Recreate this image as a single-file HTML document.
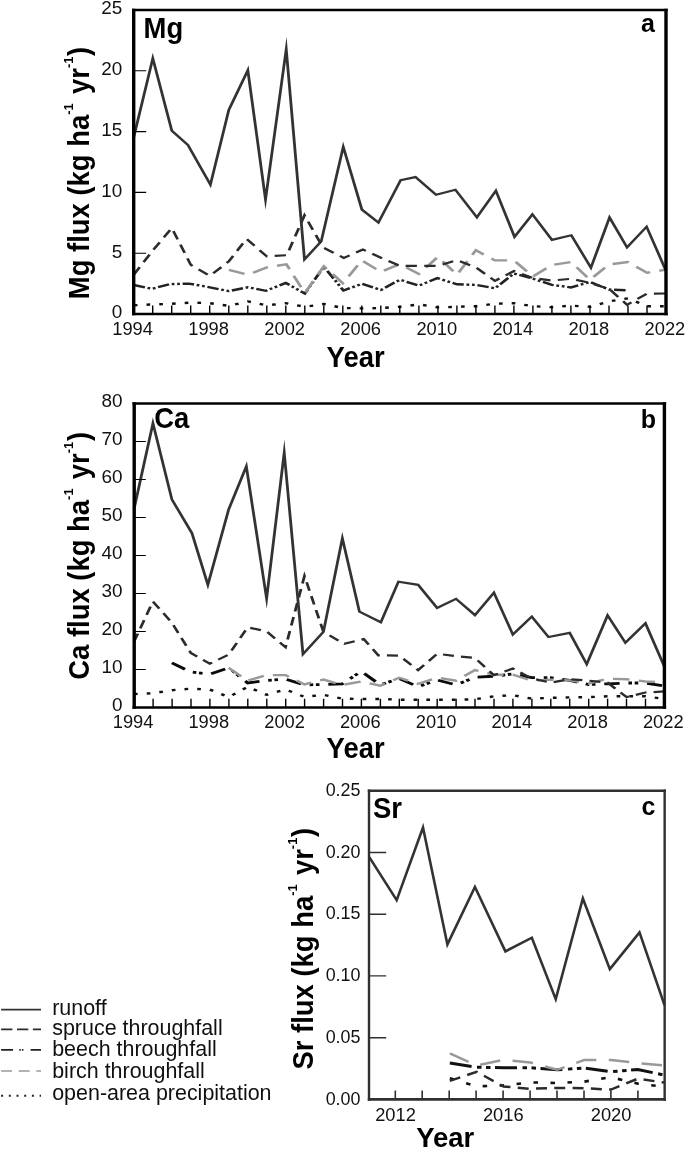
<!DOCTYPE html>
<html lang="en"><head><meta charset="utf-8"><title>Mg, Ca and Sr fluxes</title>
<style>html,body{margin:0;padding:0;background:#fff}body{width:685px;height:1149px;overflow:hidden}
svg{display:block}text{font-family:"Liberation Sans",Arial,Helvetica,sans-serif;fill:#111}
.tk{font-size:18.3px}.ty{font-size:18.9px}.b{font-weight:bold;font-size:27.45px;fill:#000}.lg{font-size:21.45px;fill:#111}</style></head><body>
<svg width="685" height="1149" viewBox="0 0 685 1149">
<rect width="685" height="1149" fill="#fff"/>
<g>
<polyline fill="none" stroke-linejoin="miter" stroke-miterlimit="20" transform="scale(1.27 1)" stroke="#111111" stroke-width="2.4" stroke-dasharray="2.9 7.14" points="105.35,305.3 120.32,304.4 135.29,303.8 150.25,302.6 165.22,303.2 180.19,305.9 195.15,301.4 210.12,305.3 225.08,303.2 240.05,306.8 255.02,304.0 269.98,308.0 284.95,308.4 299.92,308.0 314.88,306.8 329.85,304.4 344.81,307.4 359.78,306.8 374.75,306.2 389.71,303.8 404.68,303.2 419.65,306.2 434.61,307.2 449.58,305.6 464.54,306.8 479.51,301.4 494.48,298.3 509.44,306.2 524.41,306.2"/>
<polyline fill="none" stroke-linejoin="miter" stroke-miterlimit="20" transform="scale(1.27 1)" stroke="#222222" stroke-width="2.4" stroke-dasharray="9.06 2.13 2.2 2.13 2.2 2.13" points="105.35,285.0 119.57,288.8 133.79,284.2 148.76,283.6 165.22,287.3 180.19,291.1 195.15,287.3 209.37,290.8 225.08,282.9 240.05,293.5 255.02,266.7 270.43,290.5 284.95,283.8 299.92,290.0 314.88,279.7 329.85,285.6 344.37,278.1 359.78,284.3 374.75,284.9 389.71,288.3 404.68,273.5 419.65,278.7 434.61,284.9 449.58,287.4 464.54,282.0 479.51,289.5 494.48,290.3"/>
<polyline fill="none" stroke-linejoin="miter" stroke-miterlimit="20" transform="scale(1.27 1)" stroke="#999999" stroke-width="2.4" stroke-dasharray="13 7.3" points="180.19,269.9 195.15,274.8 210.12,267.4 225.53,264.3 240.05,293.1 255.02,266.2 269.98,283.2 284.95,260.4 299.92,271.9 314.88,264.0 329.85,274.0 344.81,256.8 359.78,274.7 374.75,250.2 389.71,260.4 404.68,260.4 419.65,276.4 434.61,265.0 449.58,262.0 464.54,279.7 479.51,264.4 494.48,262.0 509.44,272.8 524.41,269.6"/>
<polyline fill="none" stroke-linejoin="miter" stroke-miterlimit="20" transform="scale(1.27 1)" stroke="#2b2b2b" stroke-width="2.2" stroke-dasharray="8.9 5.8" points="105.35,274.7 120.32,250.5 135.29,228.0 150.25,264.9 165.22,275.9 180.19,261.4 194.10,238.9 210.12,256.4 225.83,255.2 239.75,215.3 254.27,247.4 270.73,257.9 285.70,249.5 299.92,257.7 314.88,265.9 329.85,265.9 344.81,265.9 359.78,260.2 374.75,267.4 389.71,280.8 404.68,271.1 419.65,278.1 434.61,280.5 449.58,278.8 464.54,282.9 479.51,288.8 493.73,304.8 509.44,293.6 524.41,293.5"/>
<polyline fill="none" stroke-linejoin="miter" stroke-miterlimit="20" transform="scale(1.27 1)" stroke="#333333" stroke-width="2.2" points="105.35,137.0 120.32,58.3 135.29,130.8 148.01,145.0 165.67,184.7 180.19,109.8 195.15,70.3 209.07,199.5 225.38,49.2 239.75,259.5 252.92,241.4 270.28,146.8 284.95,209.6 297.97,222.6 315.48,180.1 327.15,177.1 343.32,194.8 358.58,189.8 375.50,217.4 390.46,190.7 405.13,236.9 419.20,214.3 434.61,239.9 449.88,235.3 465.29,267.7 479.96,217.5 493.73,247.4 509.14,226.7 524.41,270.8"/>
</g>
<path d="M152.7 314.1V305.6M171.7 314.1V305.6M190.7 314.1V305.6M209.7 314.1V305.6M228.8 314.1V305.6M247.8 314.1V305.6M266.8 314.1V305.6M285.8 314.1V305.6M304.8 314.1V305.6M323.8 314.1V305.6M342.8 314.1V305.6M361.8 314.1V305.6M380.8 314.1V305.6M399.8 314.1V305.6M418.9 314.1V305.6M437.9 314.1V305.6M456.9 314.1V305.6M475.9 314.1V305.6M494.9 314.1V305.6M513.9 314.1V305.6M532.9 314.1V305.6M551.9 314.1V305.6M570.9 314.1V305.6M590.0 314.1V305.6M609.0 314.1V305.6M628.0 314.1V305.6M647.0 314.1V305.6" stroke="#000" stroke-width="1.4" fill="none"/>
<path d="M133.7 253.2H146.2M133.7 192.4H146.2M133.7 131.6H146.2M133.7 70.8H146.2" stroke="#000" stroke-width="1.1" fill="none"/>
<path d="M133.70 8.70V315.35M666.00 8.70V315.35" stroke="#000" stroke-width="3.40" fill="none"/>
<path d="M132.00 10.00H667.70M132.00 314.05H667.70" stroke="#000" stroke-width="2.60" fill="none"/>
<text class="ty" style="font-size:18.9px" text-anchor="end" x="122.3" y="318.4">0</text>
<text class="ty" style="font-size:18.9px" text-anchor="end" x="122.3" y="257.6">5</text>
<text class="ty" style="font-size:18.9px" text-anchor="end" x="122.3" y="196.8">10</text>
<text class="ty" style="font-size:18.9px" text-anchor="end" x="122.3" y="136.0">15</text>
<text class="ty" style="font-size:18.9px" text-anchor="end" x="122.3" y="75.2">20</text>
<text class="ty" style="font-size:18.9px" text-anchor="end" x="122.3" y="14.4">25</text>
<text class="tk" text-anchor="middle" x="132.6" y="335.0">1994</text>
<text class="tk" text-anchor="middle" x="208.6" y="335.0">1998</text>
<text class="tk" text-anchor="middle" x="284.7" y="335.0">2002</text>
<text class="tk" text-anchor="middle" x="360.7" y="335.0">2006</text>
<text class="tk" text-anchor="middle" x="436.8" y="335.0">2010</text>
<text class="tk" text-anchor="middle" x="512.8" y="335.0">2014</text>
<text class="tk" text-anchor="middle" x="588.9" y="335.0">2018</text>
<text class="tk" text-anchor="middle" x="664.9" y="335.0">2022</text>
<text class="b" transform="translate(143.6 37.5) scale(1 1.05)">Mg</text>
<text class="b" style="font-size:25px" x="641.1" y="32.3">a</text>
<text class="b" transform="translate(326.6 367.4) scale(1 1.05)">Year</text>
<text class="b" transform="translate(88.6 299.2) rotate(-90) scale(1 1.05)">Mg flux (kg ha<tspan dy="-14.8" style="font-size:13px">-1</tspan><tspan dy="14.8" dx="1.6"> yr</tspan><tspan dy="-14.8" style="font-size:13px">-1</tspan><tspan dy="14.8" dx="0.6">)</tspan></text>
<g>
<polyline fill="none" stroke-linejoin="miter" stroke-miterlimit="20" transform="scale(1.27 1)" stroke="#111111" stroke-width="2.4" stroke-dasharray="2.9 7.14" points="105.51,694.0 120.43,693.3 135.34,690.2 150.26,688.7 165.17,689.5 180.09,697.1 195.01,686.8 209.92,694.8 224.84,689.5 239.75,696.9 254.67,694.8 269.58,698.6 284.50,699.0 299.42,699.0 314.33,699.7 329.25,699.7 344.16,699.7 359.08,699.7 373.99,699.3 388.91,696.3 403.82,695.2 418.74,698.6 433.66,697.8 448.57,697.4 463.49,697.1 478.40,696.3 493.32,696.3 508.23,696.3 523.15,699.0"/>
<polyline fill="none" stroke-linejoin="miter" stroke-miterlimit="20" transform="scale(1.27 1)" stroke="#0a0a0a" stroke-width="2.8" stroke-dasharray="12.1 6.94 2.83 2.1 2.83 6.94" points="135.34,662.9 150.26,672.0 165.17,674.3 180.09,667.8 195.01,683.0 209.92,680.4 224.84,679.2 239.75,684.9 254.67,684.5 269.58,683.8 284.50,671.3 299.42,684.9 314.33,678.5 329.25,686.8 344.16,680.0 359.08,684.9 373.99,677.3 388.91,676.2 403.82,673.9 418.74,677.7 433.66,677.7 448.57,680.4 463.49,684.5 478.40,683.8 493.32,683.0 508.23,683.0 523.15,686.1"/>
<polyline fill="none" stroke-linejoin="miter" stroke-miterlimit="20" transform="scale(1.27 1)" stroke="#999999" stroke-width="2.4" stroke-dasharray="13 7.3" points="180.09,667.8 195.01,680.7 209.92,675.1 224.84,675.1 239.75,684.5 254.67,679.6 269.58,684.9 284.50,681.5 299.42,685.7 314.33,677.7 329.25,683.8 344.16,677.7 359.08,680.7 373.99,670.1 388.91,674.7 403.82,674.7 418.74,680.7 433.66,679.6 448.57,680.4 463.49,683.4 478.40,678.8 493.32,679.2 508.23,681.5 523.15,682.3"/>
<polyline fill="none" stroke-linejoin="miter" stroke-miterlimit="20" transform="scale(1.27 1)" stroke="#2b2b2b" stroke-width="2.2" stroke-dasharray="8.7 5.6" points="105.51,641.7 120.43,601.5 135.34,622.7 150.26,653.0 165.17,663.7 180.09,654.6 195.01,627.3 209.92,631.4 224.84,647.2 239.75,576.0 254.67,631.8 271.08,643.9 286.44,639.0 297.92,655.3 314.33,655.7 329.25,670.1 344.16,653.8 359.08,656.1 373.99,658.0 388.91,675.1 403.82,668.6 418.74,678.5 433.66,682.6 448.57,679.2 463.49,680.7 478.40,682.6 493.32,697.1 508.23,692.5 523.15,691.4"/>
<polyline fill="none" stroke-linejoin="miter" stroke-miterlimit="20" transform="scale(1.27 1)" stroke="#333333" stroke-width="2.2" points="105.51,509.3 120.43,423.3 135.34,499.4 151.15,533.2 163.68,584.8 180.09,509.3 193.96,466.4 209.92,598.6 223.79,452.7 238.56,654.2 254.67,631.8 269.58,538.3 283.01,611.7 299.86,622.3 313.73,581.7 329.25,584.8 344.16,607.9 359.08,598.8 373.99,615.1 388.91,592.7 403.82,634.5 418.74,616.6 431.87,637.1 448.57,632.9 462.00,664.1 478.40,615.3 492.42,642.8 508.23,623.3 523.15,666.7"/>
</g>
<path d="M153.1 707.5V698.8M172.1 707.5V698.8M191.0 707.5V698.8M209.9 707.5V698.8M228.9 707.5V698.8M247.8 707.5V698.8M266.8 707.5V698.8M285.7 707.5V698.8M304.6 707.5V698.8M323.6 707.5V698.8M342.5 707.5V698.8M361.4 707.5V698.8M380.4 707.5V698.8M399.3 707.5V698.8M418.2 707.5V698.8M437.2 707.5V698.8M456.1 707.5V698.8M475.0 707.5V698.8M494.0 707.5V698.8M512.9 707.5V698.8M531.9 707.5V698.8M550.8 707.5V698.8M569.7 707.5V698.8M588.7 707.5V698.8M607.6 707.5V698.8M626.5 707.5V698.8M645.5 707.5V698.8" stroke="#000" stroke-width="1.4" fill="none"/>
<path d="M134.2 669.5H145.8M134.2 631.5H145.8M134.2 593.5H145.8M134.2 555.5H145.8M134.2 517.5H145.8M134.2 479.5H145.8M134.2 441.5H145.8" stroke="#000" stroke-width="1.1" fill="none"/>
<path d="M134.20 402.20V708.80M664.40 402.20V708.80" stroke="#000" stroke-width="3.40" fill="none"/>
<path d="M132.50 403.50H666.10M132.50 707.50H666.10" stroke="#000" stroke-width="2.60" fill="none"/>
<text class="ty" style="font-size:18.9px" text-anchor="end" x="122.4" y="711.4">0</text>
<text class="ty" style="font-size:18.9px" text-anchor="end" x="122.4" y="673.4">10</text>
<text class="ty" style="font-size:18.9px" text-anchor="end" x="122.4" y="635.4">20</text>
<text class="ty" style="font-size:18.9px" text-anchor="end" x="122.4" y="597.4">30</text>
<text class="ty" style="font-size:18.9px" text-anchor="end" x="122.4" y="559.4">40</text>
<text class="ty" style="font-size:18.9px" text-anchor="end" x="122.4" y="521.4">50</text>
<text class="ty" style="font-size:18.9px" text-anchor="end" x="122.4" y="483.4">60</text>
<text class="ty" style="font-size:18.9px" text-anchor="end" x="122.4" y="445.4">70</text>
<text class="ty" style="font-size:18.9px" text-anchor="end" x="122.4" y="407.4">80</text>
<text class="tk" text-anchor="middle" x="133.1" y="727.7">1994</text>
<text class="tk" text-anchor="middle" x="208.8" y="727.7">1998</text>
<text class="tk" text-anchor="middle" x="284.6" y="727.7">2002</text>
<text class="tk" text-anchor="middle" x="360.3" y="727.7">2006</text>
<text class="tk" text-anchor="middle" x="436.1" y="727.7">2010</text>
<text class="tk" text-anchor="middle" x="511.8" y="727.7">2014</text>
<text class="tk" text-anchor="middle" x="587.6" y="727.7">2018</text>
<text class="tk" text-anchor="middle" x="663.3" y="727.7">2022</text>
<text class="b" transform="translate(154.3 427.5) scale(1 1.05)">Ca</text>
<text class="b" style="font-size:25px" x="640.7" y="428.2">b</text>
<text class="b" transform="translate(326.6 757.6) scale(1 1.05)">Year</text>
<text class="b" transform="translate(88.6 679.8) rotate(-90) scale(1 1.05)">Ca flux (kg ha<tspan dy="-14.8" style="font-size:13px">-1</tspan><tspan dy="14.8" dx="1.6"> yr</tspan><tspan dy="-14.8" style="font-size:13px">-1</tspan><tspan dy="14.8" dx="0.6">)</tspan></text>
<g>
<polyline fill="none" stroke-linejoin="miter" stroke-miterlimit="20" stroke="#111111" stroke-width="2.6" stroke-dasharray="4.5 12.5" points="449.84,1078.3 476.68,1086.3 503.53,1085.4 530.37,1082.4 557.22,1083.0 584.06,1081.7 610.91,1077.2 637.75,1083.6 664.60,1086.9"/>
<polyline fill="none" stroke-linejoin="miter" stroke-miterlimit="20" stroke="#111111" stroke-width="3.0" stroke-dasharray="22 5.5 4.5 4.5 4.5 4.5" points="449.84,1063.1 476.68,1067.3 503.53,1067.7 530.37,1067.7 557.22,1069.8 584.06,1068.1 610.91,1071.8 637.75,1069.5 664.60,1075.1"/>
<polyline fill="none" stroke-linejoin="miter" stroke-miterlimit="20" stroke="#999999" stroke-width="2.5" stroke-dasharray="20.5 12.5" points="449.84,1053.4 476.68,1065.5 503.53,1059.8 530.37,1062.6 557.22,1069.8 584.06,1060.0 610.91,1060.0 637.75,1063.1 664.60,1065.5"/>
<polyline fill="none" stroke-linejoin="miter" stroke-miterlimit="20" stroke="#2b2b2b" stroke-width="2.5" stroke-dasharray="11 7.3" points="449.84,1080.9 476.68,1071.8 503.53,1086.5 530.37,1088.8 557.22,1087.9 584.06,1088.2 610.91,1089.6 637.75,1078.7 664.60,1082.6"/>
<polyline fill="none" stroke-linejoin="miter" stroke-miterlimit="20" stroke="#333333" stroke-width="2.6" points="369.30,857.1 396.68,900.1 422.99,827.5 447.42,944.4 474.94,887.0 505.41,951.4 531.85,937.7 555.74,999.1 582.86,898.5 609.84,969.1 639.50,932.4 664.60,1005.4"/>
</g>
<path d="M395.3 1099.4V1090.4M422.2 1099.4V1090.4M449.2 1099.4V1090.4M476.1 1099.4V1090.4M503.1 1099.4V1090.4M530.1 1099.4V1090.4M557.0 1099.4V1090.4M584.0 1099.4V1090.4M610.9 1099.4V1090.4M637.9 1099.4V1090.4" stroke="#303030" stroke-width="1.6" fill="none"/>
<path d="M369.0 1037.7H386.2M369.0 975.9H386.2M369.0 914.2H386.2M369.0 852.5H386.2" stroke="#303030" stroke-width="1.4" fill="none"/>
<path d="M369.00 789.45V1100.70M664.65 789.45V1100.70" stroke="#303030" stroke-width="2.40" fill="none"/>
<path d="M367.80 790.75H665.85M367.80 1099.40H665.85" stroke="#303030" stroke-width="2.60" fill="none"/>
<text class="ty" style="font-size:17.9px" text-anchor="end" x="360.5" y="1104.5">0.00</text>
<text class="ty" style="font-size:17.9px" text-anchor="end" x="360.5" y="1042.8">0.05</text>
<text class="ty" style="font-size:17.9px" text-anchor="end" x="360.5" y="981.0">0.10</text>
<text class="ty" style="font-size:17.9px" text-anchor="end" x="360.5" y="919.3">0.15</text>
<text class="ty" style="font-size:17.9px" text-anchor="end" x="360.5" y="857.6">0.20</text>
<text class="ty" style="font-size:17.9px" text-anchor="end" x="360.5" y="795.9">0.25</text>
<text class="tk" text-anchor="middle" x="395.5" y="1121.2">2012</text>
<text class="tk" text-anchor="middle" x="503.3" y="1121.2">2016</text>
<text class="tk" text-anchor="middle" x="611.1" y="1121.2">2020</text>
<text class="b" transform="translate(372.9 818.2) scale(1 1.05)">Sr</text>
<text class="b" style="font-size:25px" x="641.4" y="815.4">c</text>
<text class="b" transform="translate(416.3 1146.9) scale(1 1.0)">Year</text>
<text class="b" transform="translate(313.0 1069.6) rotate(-90) scale(1 1.05)">Sr flux (kg ha<tspan dy="-14.8" style="font-size:13px">-1</tspan><tspan dy="14.8" dx="1.6"> yr</tspan><tspan dy="-14.8" style="font-size:13px">-1</tspan><tspan dy="14.8" dx="0.6">)</tspan></text>
<line x1="1.1" x2="41" y1="1009.7" y2="1009.7" stroke="#333333" stroke-width="1.7"/>
<text class="lg" transform="translate(52.2 1015.2) scale(1 1.03)">runoff</text>
<line x1="1.1" x2="41" y1="1029.4" y2="1029.4" stroke="#2b2b2b" stroke-width="1.7" stroke-dasharray="11.3 4.6"/>
<text class="lg" transform="translate(52.2 1035.1) scale(1 1.03)">spruce throughfall</text>
<line x1="1.1" x2="41" y1="1049.8" y2="1049.8" stroke="#222" stroke-width="1.7" stroke-dasharray="12 6.2 1.5 1.1 1.5 7.2"/>
<text class="lg" transform="translate(52.2 1056.4) scale(1 1.03)">beech throughfall</text>
<line x1="1.1" x2="41" y1="1071.0" y2="1071.0" stroke="#999999" stroke-width="1.7" stroke-dasharray="11 6.6"/>
<text class="lg" transform="translate(52.2 1077.6) scale(1 1.03)">birch throughfall</text>
<line x1="1.1" x2="41" y1="1095.8" y2="1095.8" stroke="#222" stroke-width="2.0" stroke-dasharray="2 5.7"/>
<text class="lg" transform="translate(52.2 1099.5) scale(1 1.03)">open-area precipitation</text>
</svg></body></html>
